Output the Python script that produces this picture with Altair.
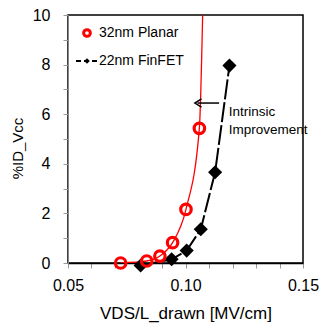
import altair as alt
import pandas as pd

planar_x = [0.0724, 0.0835, 0.0891, 0.0945, 0.1002, 0.1059]
planar_y = [0.0, 0.08, 0.28, 0.82, 2.16, 5.43]
# fitted curve continues past the last point to the top of the plot
planar_fit_x = planar_x + [0.1073]
planar_fit_y = planar_y + [10.0]

finfet_x = [0.0809, 0.0941, 0.1005, 0.1065, 0.1126, 0.1187]
finfet_y = [-0.1, 0.15, 0.5, 1.36, 3.66, 7.96]

x_ticks = [0.05, 0.06, 0.07, 0.08, 0.09, 0.10, 0.11, 0.12, 0.13, 0.14, 0.15]
x_labels = ["0.05", "0.10", "0.15"]
y_ticks = list(range(0, 11))

planar = pd.DataFrame({"x": planar_x, "y": planar_y})
planar_fit = pd.DataFrame({"x": planar_fit_x, "y": planar_fit_y})
finfet = pd.DataFrame({"x": finfet_x, "y": finfet_y})

FONT = "Liberation Sans"

xs = alt.Scale(domain=[0.05, 0.15], nice=False)
ys = alt.Scale(domain=[0, 10], nice=False)

lab_arr = "[" + ",".join("'%s'" % s for s in x_labels) + "]"
xaxis = alt.Axis(values=x_ticks, title="VDS/L_drawn [MV/cm]", grid=False,
                 labelExpr="indexof(" + lab_arr + ", format(datum.value, '.2f')) >= 0 ? format(datum.value, '.2f') : ''",
                 labelFlush=False, labelOverlap=False,
                 tickColor="#999999", domainColor="#000000", domainWidth=1.5,
                 tickSize=5, labelFontSize=16, titleFontSize=17, labelFont=FONT,
                 titleFont=FONT, titleFontWeight="normal", labelColor="#000", titleColor="#000",
                 labelPadding=9, titlePadding=12)
yaxis = alt.Axis(values=y_ticks, title="%ID_Vcc", grid=False,
                 labelExpr="(datum.value % 2 == 0) ? datum.value : ''",
                 labelFlush=False, labelOverlap=False,
                 tickColor="#999999", domainColor="#888888", tickSize=5,
                 labelFontSize=16, titleFontSize=15, labelFont=FONT, titleFont=FONT,
                 titleFontWeight="normal", labelColor="#000", titleColor="#000",
                 labelPadding=13, titlePadding=7, titleY=133)

X = lambda: alt.X("x:Q", scale=xs, axis=xaxis)
Y = lambda: alt.Y("y:Q", scale=ys, axis=yaxis)

fit_line = alt.Chart(planar_fit).mark_line(color="#ff0000", strokeWidth=1.3,
                                           interpolate="monotone", clip=True).encode(x=X(), y=Y())

fin_line = alt.Chart(finfet).mark_line(color="#000000", strokeWidth=2,
                                       strokeDash=[20, 3]).encode(x=X(), y=Y())

fin_pts = alt.Chart(finfet).mark_point(shape="diamond", filled=True, color="#000000",
                                       size=200, opacity=1).encode(x=X(), y=Y())

pl_pts = alt.Chart(planar).mark_point(shape="circle", filled=False, color="#ff0000",
                                      size=110, strokeWidth=3.2, opacity=1).encode(x=X(), y=Y())

# annotation arrow
arrow_df = pd.DataFrame({"x": [0.1143], "x2": [0.1051], "y": [6.45]})
arrow = alt.Chart(arrow_df).mark_rule(color="#000", strokeWidth=1.5).encode(
    x=X(), x2="x2:Q", y=Y())
head = alt.Chart(pd.DataFrame({"x": [0.1054], "y": [6.45]})).mark_point(
    shape="M0.8,-1L-0.8,0L0.8,1", filled=False, color="#000", size=70, strokeWidth=1.5, opacity=1).encode(
    x=X(), y=Y())
ann = alt.Chart(pd.DataFrame({"x": [0.1184], "y": [6.45], "t": [["Intrinsic", "Improvement"]]})).mark_text(
    align="left", baseline="middle", font=FONT, fontSize=13.5, lineHeight=18, dy=9, color="#000").encode(
    x=X(), y=Y(), text="t:N")

# legend
leg_c = alt.Chart(pd.DataFrame({"a": [1]})).mark_point(shape="circle", filled=False, color="#ff0000",
                                                       size=45, strokeWidth=3, opacity=1).encode(
    x=alt.value(19), y=alt.value(18))
leg_l = alt.Chart(pd.DataFrame({"a": [1]})).mark_rule(color="#000", strokeWidth=2, strokeDash=[5, 3]).encode(
    x=alt.value(8), x2=alt.value(29), y=alt.value(46))
leg_d = alt.Chart(pd.DataFrame({"a": [1]})).mark_point(shape="diamond", filled=True, color="#000",
                                                       size=30, opacity=1).encode(x=alt.value(19), y=alt.value(46))
leg_t = alt.Chart(pd.DataFrame({"t": ["32nm Planar", "22nm FinFET"], "yy": [18, 46]})).mark_text(
    align="left", baseline="middle", font=FONT, fontSize=14, color="#000").encode(
    x=alt.value(31), y=alt.Y("yy:Q", scale=None), text="t:N")

chart = alt.layer(fit_line, fin_line, fin_pts, pl_pts, arrow, head, ann, leg_c, leg_l, leg_d, leg_t).properties(
    width=235, height=248,
    autosize=alt.AutoSizeParams(type="none"),
    padding={"left": 68, "top": 15, "right": 20, "bottom": 61},
    background="white",
).configure_view(stroke="#000000", strokeWidth=1.5)

chart.save("out.html", embed_options={"renderer": "svg", "actions": False})
